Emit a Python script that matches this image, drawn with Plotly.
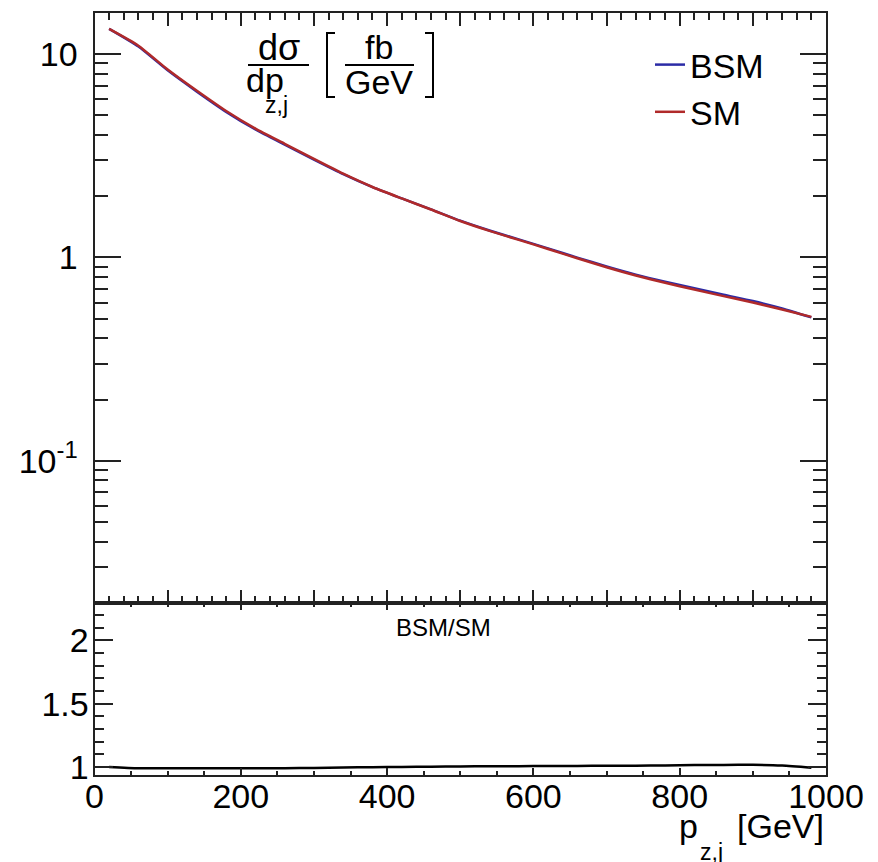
import plotly.graph_objects as go

# Differential cross section in p_{z,j} (fb/GeV)
pz = [20, 60, 100, 140, 180, 220, 260, 300, 340, 380, 420, 460, 500,
      540, 580, 620, 660, 700, 740, 780, 820, 860, 900, 940, 980]
sm = [13.3, 11.0, 8.4, 6.6, 5.25, 4.3, 3.62, 3.05, 2.58, 2.22, 1.95, 1.72, 1.51,
      1.35, 1.22, 1.10, 0.99, 0.895, 0.815, 0.75, 0.695, 0.645, 0.60, 0.555, 0.51]
bsm = [13.3, 10.89, 8.316, 6.534, 5.198, 4.257, 3.584, 3.026, 2.567, 2.216, 1.95, 1.723, 1.516,
       1.357, 1.227, 1.108, 0.998, 0.903, 0.823, 0.759, 0.705, 0.655, 0.610, 0.561, 0.507]
ratio = [b / s for b, s in zip(bsm, sm)]

W, H = 878, 862
FONT = "Liberation Sans, Arial, Helvetica, sans-serif"
AX = "#222222"


def px(x):
    return x / W


def py(y):
    return 1 - y / H


X0, X1 = px(94.5), px(826)
TOP_DOM = [py(602.5), py(13)]
BOT_DOM = [py(774.5), py(602.5)]

fig = go.Figure()
fig.add_trace(go.Scatter(x=pz, y=bsm, name="BSM", mode="lines",
                         line=dict(color="#2b2ba6", width=2.5, shape="spline", smoothing=0.6),
                         xaxis="x", yaxis="y"))
fig.add_trace(go.Scatter(x=pz, y=sm, name="SM", mode="lines",
                         line=dict(color="#b02a2a", width=2.5, shape="spline", smoothing=0.6),
                         xaxis="x", yaxis="y"))
fig.add_trace(go.Scatter(x=pz, y=ratio, mode="lines", showlegend=False,
                         line=dict(color="black", width=2.5, shape="spline", smoothing=0.6),
                         xaxis="x2", yaxis="y2"))

log_minor = [m * 10 ** e for e in (-2, -1, 0, 1) for m in range(2, 10)]

common = dict(showline=True, linecolor=AX, linewidth=2, ticks="inside", mirror="ticks",
              tickcolor=AX, tickwidth=1.5, showgrid=False, zeroline=False, automargin=False,
              tickfont=dict(family=FONT, size=34, color="black"))

fig.update_layout(
    template="none",
    width=W, height=H,
    margin=dict(l=0, r=0, t=0, b=0, autoexpand=False),
    paper_bgcolor="white", plot_bgcolor="white",
    font=dict(family=FONT, color="black"),
    xaxis=dict(domain=[X0, X1], range=[0, 1000], anchor="y", showticklabels=False,
               tick0=0, dtick=100, ticklen=13,
               minor=dict(ticks="inside", tick0=0, dtick=20, ticklen=7, tickcolor=AX, tickwidth=1.5),
               **common),
    yaxis=dict(domain=TOP_DOM, type="log", range=[-1.697, 1.202], anchor="x",
               tickmode="array", tickvals=[0.1, 1, 10], ticktext=["10<sup>-1</sup>", "1", "10"],
               ticklen=26, ticklabelstandoff=8,
               minor=dict(ticks="inside", tickmode="array", tickvals=log_minor, ticklen=13,
                          tickcolor=AX, tickwidth=1.5),
               **common),
    xaxis2=dict(domain=[X0, X1], range=[0, 1000], anchor="y2",
                tick0=0, dtick=200, ticklen=7, ticklabelstandoff=-9,
                minor=dict(ticks="inside", tick0=0, dtick=50, ticklen=4, tickcolor=AX, tickwidth=1.5),
                **common),
    yaxis2=dict(domain=BOT_DOM, range=[0.94, 2.3], anchor="x2",
                tickmode="array", tickvals=[1, 1.5, 2], ticktext=["1", "1.5", "2"],
                ticklen=18, ticklabelstandoff=-3,
                minor=dict(ticks="inside", tick0=0, dtick=0.1, ticklen=9, tickcolor=AX, tickwidth=1.5),
                **common),
    legend=dict(x=px(650), y=py(36), xanchor="left", yanchor="top",
                bgcolor="rgba(0,0,0,0)", font=dict(family=FONT, size=34, color="black"),
                itemwidth=30, tracegroupgap=0),
)

# y-axis title: d sigma / dp_{z,j} [ fb / GeV ]
def label(text, x, y, size=34, xanchor="center", yanchor="middle"):
    fig.add_annotation(text=text, x=px(x), y=py(y), xref="paper", yref="paper",
                       xanchor=xanchor, yanchor=yanchor, showarrow=False,
                       font=dict(family=FONT, size=size, color="black"))


label("dσ", 279, 47, size=36)
label("dp", 265, 80)
label("z,j", 276, 105, size=23)
label("fb", 379, 47)
label("GeV", 379, 82)

line_style = dict(color="black", width=2)
fig.add_shape(type="line", xref="paper", yref="paper",
              x0=px(248), x1=px(309), y0=py(65), y1=py(65), line=line_style)
fig.add_shape(type="line", xref="paper", yref="paper",
              x0=px(345), x1=px(414), y0=py(65), y1=py(65), line=line_style)
fig.add_shape(type="path", xref="paper", yref="paper", line=line_style,
              path=f"M {px(335)} {py(33)} L {px(327)} {py(33)} L {px(327)} {py(97)} L {px(335)} {py(97)}")
fig.add_shape(type="path", xref="paper", yref="paper", line=line_style,
              path=f"M {px(425)} {py(33)} L {px(433)} {py(33)} L {px(433)} {py(97)} L {px(425)} {py(97)}")

# ratio panel label
label("BSM/SM", 443, 627, size=24)

# x-axis title: p_{z,j} [GeV]
label("[GeV]", 826, 826, xanchor="right")
label("p", 688, 826)
label("z,j", 711, 852, size=23)

fig.write_html("out.html")
